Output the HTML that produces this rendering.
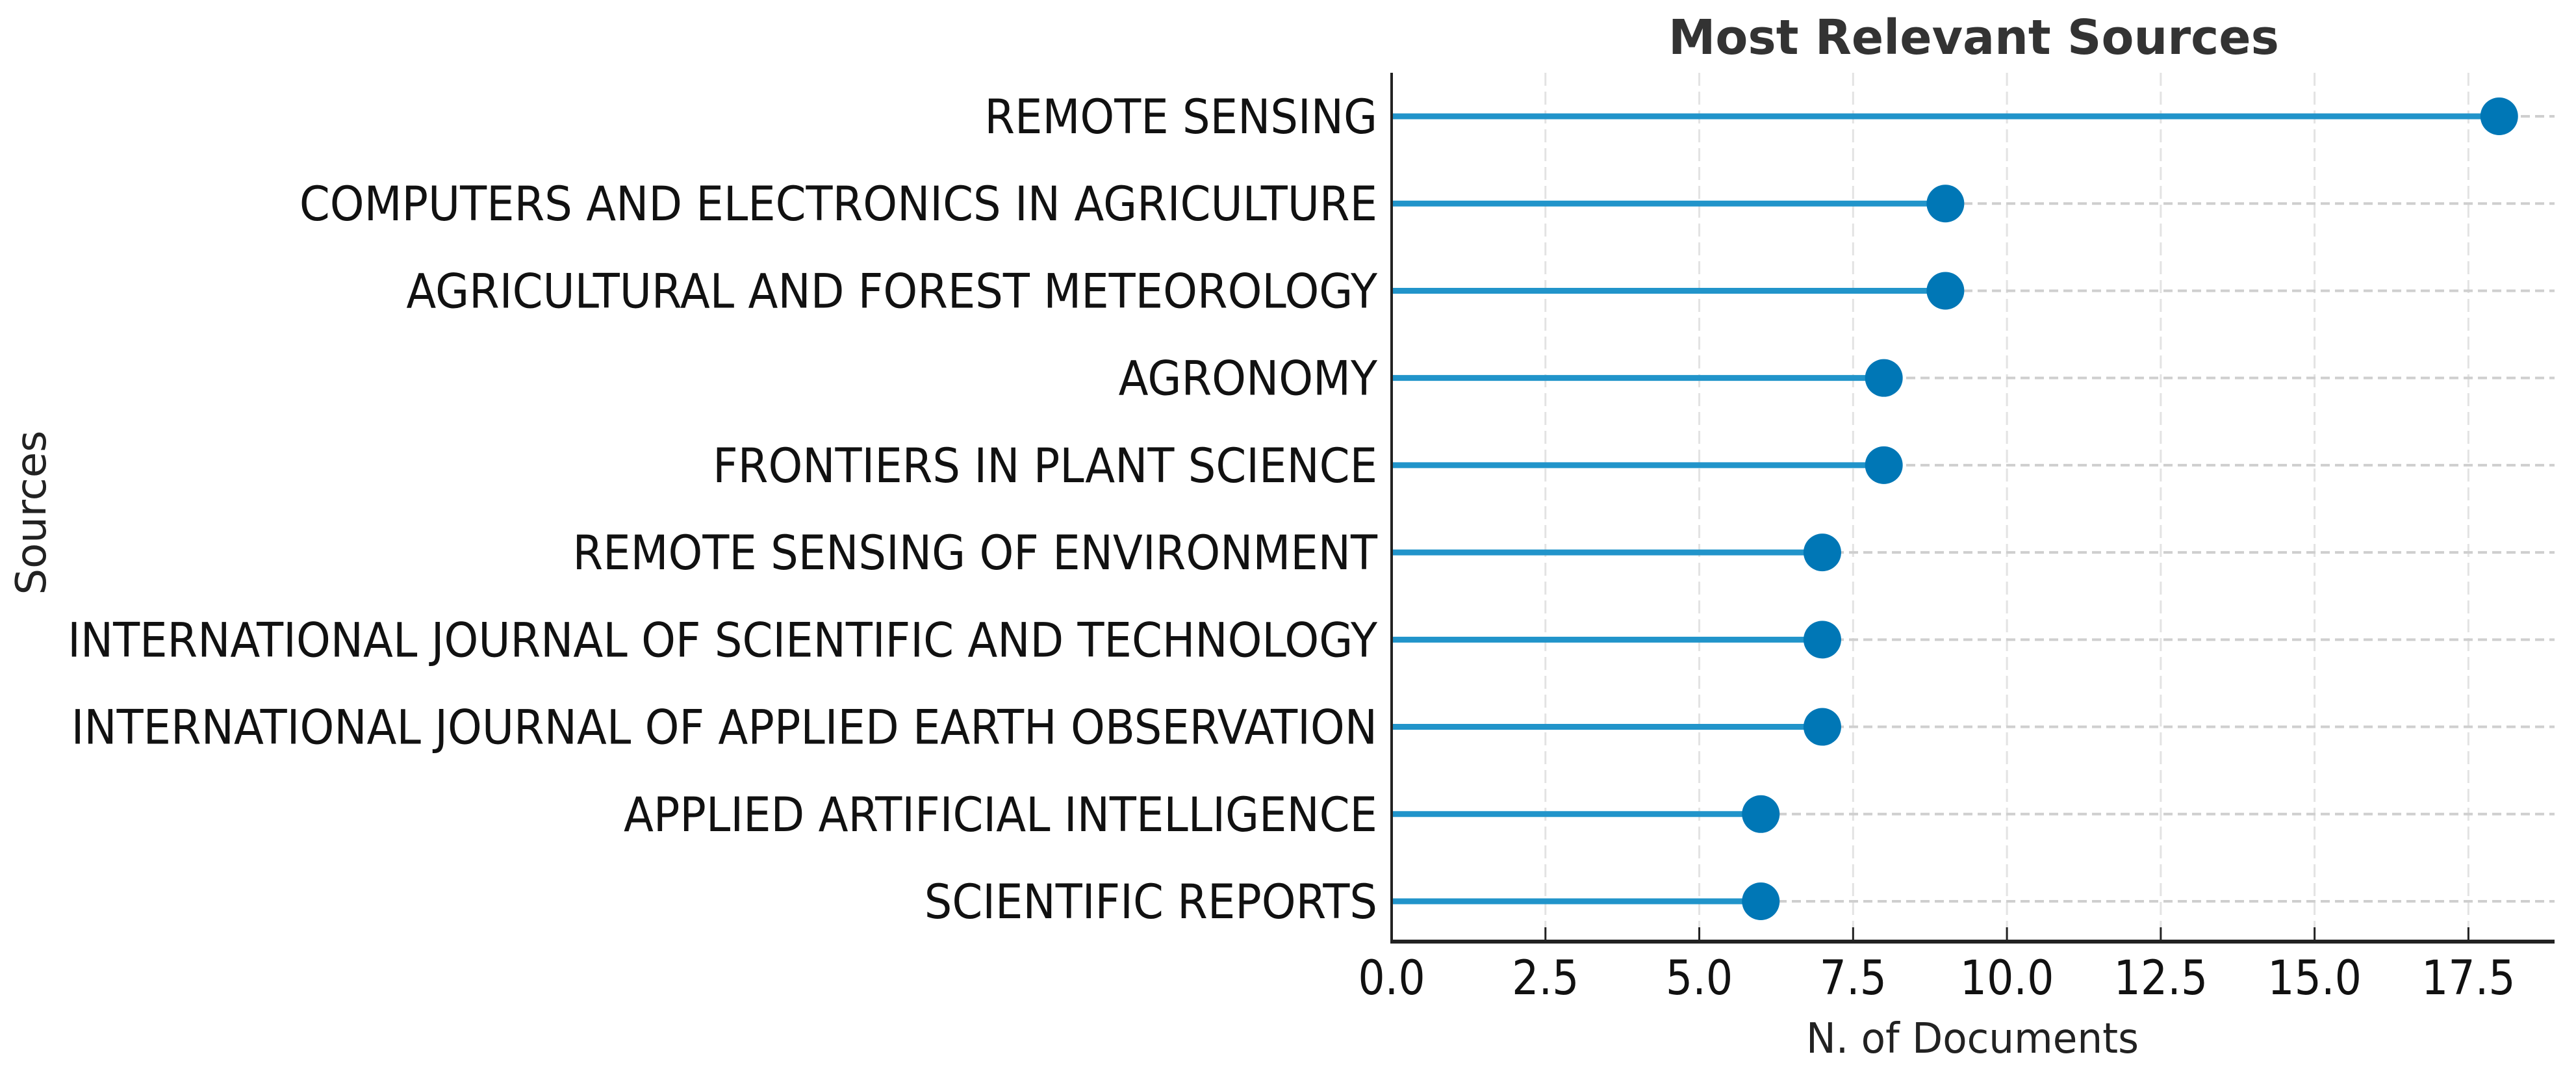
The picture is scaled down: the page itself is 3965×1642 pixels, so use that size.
<!DOCTYPE html>
<html><head><meta charset="utf-8"><style>
html,body{margin:0;padding:0;background:#fff}
svg{display:block}
text{font-family:"DejaVu Sans","Liberation Sans",sans-serif}
</style></head><body>
<svg id="chart" width="3965" height="1642" viewBox="0 0 3965 1642" xmlns="http://www.w3.org/2000/svg">
<text x="3038" y="83" font-size="74" font-weight="bold" fill="#333" text-anchor="middle" textLength="940" lengthAdjust="spacingAndGlyphs">Most Relevant Sources</text>
<g id="grid"></g>
<g id="marks"></g>
<g id="axes"></g>
<text x="3036" y="1620" font-size="64" fill="#222" text-anchor="middle" textLength="512" lengthAdjust="spacingAndGlyphs">N. of Documents</text>
<text transform="translate(70,789) rotate(-90)" font-size="64" fill="#222" text-anchor="middle" textLength="253" lengthAdjust="spacingAndGlyphs">Sources</text>
</svg>
<script>
const categories = ["REMOTE SENSING","COMPUTERS AND ELECTRONICS IN AGRICULTURE","AGRICULTURAL AND FOREST METEOROLOGY","AGRONOMY","FRONTIERS IN PLANT SCIENCE","REMOTE SENSING OF ENVIRONMENT","INTERNATIONAL JOURNAL OF SCIENTIFIC AND TECHNOLOGY","INTERNATIONAL JOURNAL OF APPLIED EARTH OBSERVATION","APPLIED ARTIFICIAL INTELLIGENCE","SCIENTIFIC REPORTS"];
const documents = [18,9,9,8,8,7,7,7,6,6];
const xTicks = [0,2.5,5,7.5,10,12.5,15,17.5];
const xTickLabels = ["0.0","2.5","5.0","7.5","10.0","12.5","15.0","17.5"];

const NS="http://www.w3.org/2000/svg";
const L=2142,R=3932,T=112,B=1449;
const xMax=18.9;
const x=v=>L+(v/xMax)*(R-L);
const y=i=>179+i*((1387-179)/(categories.length-1));
const SQ=0.92, SQT=0.89;
function mk(tag,attrs,parent){const e=document.createElementNS(NS,tag);for(const k in attrs)e.setAttribute(k,attrs[k]);parent.appendChild(e);return e;}
const grid=document.getElementById('grid'),marks=document.getElementById('marks'),axes=document.getElementById('axes');

xTicks.forEach((t,i)=>{
  const g=mk('line',{x1:x(t),x2:x(t),y1:T,y2:B,stroke:'#e3e3e3','stroke-width':3,'stroke-dasharray':'20 9'},grid);
  
  
  const tk=mk('line',{x1:x(t),x2:x(t),y1:B,y2:B-22,stroke:'#222','stroke-width':3},axes);
  
  
  const tx=mk('text',{transform:`translate(${x(t)},1530) scale(${SQT},1)`,'font-size':73,fill:'#111','text-anchor':'middle'},axes);
  tx.textContent=xTickLabels[i];
  
  
});

categories.forEach((c,i)=>{
  const yy=y(i);
  const hg=mk('line',{x1:L,x2:R,y1:yy,y2:yy,stroke:'#cfcfcf','stroke-width':4,'stroke-dasharray':'14 8'},grid);
  
  
  const st=mk('line',{x1:L,x2:x(documents[i]),y1:yy,y2:yy,stroke:'#2194ca','stroke-width':9},marks);
  
  
  const d=mk('circle',{cx:x(documents[i]),cy:yy,r:29,fill:'#0077b6'},marks);
  
  
  const lb=mk('text',{transform:`translate(2120,${yy+26}) scale(${SQ},1)`,'font-size':73,fill:'#111','text-anchor':'end'},axes);
  lb.textContent=c;
  
  
});

const ls=mk('line',{x1:L,x2:L,y1:T,y2:B+3,stroke:'#222','stroke-width':4},axes);


const bs=mk('line',{x1:L-2,x2:R,y1:B,y2:B,stroke:'#222','stroke-width':6},axes);


</script>
</body></html>
